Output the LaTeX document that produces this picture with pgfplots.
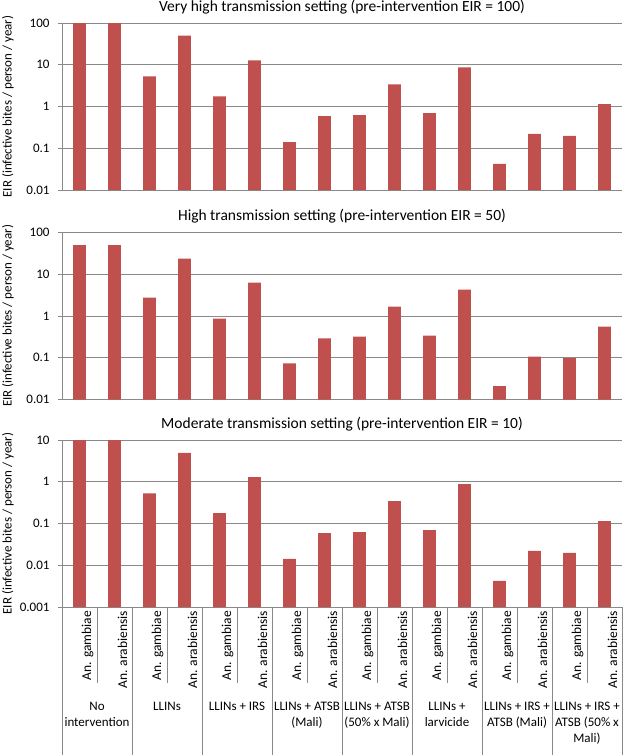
\documentclass[border=0pt]{standalone}
\usepackage{pgfplots}
\pgfplotsset{compat=1.18}
\usepackage{fontspec}
\setmainfont{Carlito}
\definecolor{barred}{HTML}{C0504D}
\definecolor{gridgray}{HTML}{898989}

\pgfplotsset{
  width=560pt, height=167pt, scale only axis,
  xmin=-0.5, xmax=15.5,
  axis x line*=bottom, axis y line*=left,
  axis line style={gridgray, line width=0.9pt},
  ymajorgrids, grid style={gridgray, line width=0.9pt},
  ytick style={gridgray, line width=0.9pt},
  xtick style={draw=none},
  tick align=outside, major tick length=4pt,
  yminorticks=false,
  tick label style={font=\fontsize{13}{15}\selectfont},
  yticklabel style={xshift=-5pt},
  ylabel style={at={(axis description cs:-0.0964,0.5)}, anchor=center, font=\fontsize{13}{15}\selectfont},
  title style={at={(axis description cs:0.5,1)}, anchor=base, inner sep=0pt, yshift=6pt, font=\fontsize{15.5}{18}\selectfont},
}
\pgfplotsset{/pgf/number format/assume math mode=true}
\tikzset{grp/.style={anchor=north, align=center, inner sep=0pt, yshift=-95pt, font=\fontsize{13}{16}\selectfont},
  sep/.style={gridgray, line width=0.9pt}}

\begin{document}
\begin{tikzpicture}
\path[use as bounding box] (0,0) rectangle (627pt,-755pt);

% Panel 1
\begin{axis}[at={(62pt,-190pt)}, anchor=south west,
  ymode=log, log origin y=infty, ybar, bar width=12.8pt, clip=false,
  ymin=0.01, ymax=100,
  ytick={0.01,0.1,1,10,100}, yticklabels={0.01,0.1,1,10,100},
  xtick=\empty,
  ylabel={EIR (infective bites / person / year)},
  title={Very high transmission setting (pre-intervention EIR = 100)}]
\addplot[fill=barred, draw=none, bar shift=0pt] coordinates {
(0,100) (1,100) (2,5.25) (3,49.7) (4,1.76) (5,12.7) (6,0.14) (7,0.59)
(8,0.62) (9,3.4) (10,0.69) (11,8.6) (12,0.042) (13,0.22) (14,0.197) (15,1.14)};
\end{axis}

% Panel 2
\begin{axis}[at={(62pt,-399.5pt)}, anchor=south west,
  ymode=log, log origin y=infty, ybar, bar width=12.8pt, clip=false,
  ymin=0.01, ymax=100,
  ytick={0.01,0.1,1,10,100}, yticklabels={0.01,0.1,1,10,100},
  xtick=\empty,
  ylabel={EIR (infective bites / person / year)},
  title={High transmission setting (pre-intervention EIR = 50)}]
\addplot[fill=barred, draw=none, bar shift=0pt] coordinates {
(0,49.7) (1,49.7) (2,2.75) (3,23.8) (4,0.86) (5,6.3) (6,0.073) (7,0.29)
(8,0.32) (9,1.67) (10,0.34) (11,4.3) (12,0.021) (13,0.107) (14,0.098) (15,0.56)};
\end{axis}

% Panel 3
\begin{axis}[at={(62pt,-607pt)}, anchor=south west,
  ymode=log, log origin y=infty, ybar, bar width=12.8pt, clip=false,
  ymin=0.001, ymax=10,
  ytick={0.001,0.01,0.1,1,10}, yticklabels={0.001,0.01,0.1,1,10},
  xtick={0,...,15},
  xticklabels={An. gambiae, An. arabiensis, An. gambiae, An. arabiensis, An. gambiae, An. arabiensis, An. gambiae, An. arabiensis, An. gambiae, An. arabiensis, An. gambiae, An. arabiensis, An. gambiae, An. arabiensis, An. gambiae, An. arabiensis},
  xticklabel style={rotate=90, anchor=east, inner sep=0pt, yshift=-8pt, font=\fontsize{13.5}{15}\selectfont},
  ylabel={EIR (infective bites / person / year)},
  title={Moderate transmission setting (pre-intervention EIR = 10)}]
\addplot[fill=barred, draw=none, bar shift=0pt] coordinates {
(0,10) (1,10) (2,0.53) (3,4.9) (4,0.177) (5,1.29) (6,0.0142) (7,0.059)
(8,0.062) (9,0.344) (10,0.069) (11,0.88) (12,0.0042) (13,0.022) (14,0.0197) (15,0.114)};
% separators within groups
\draw[sep] (axis cs:0.5,0.001) -- ([yshift=-76pt]axis cs:0.5,0.001);
\draw[sep] (axis cs:2.5,0.001) -- ([yshift=-76pt]axis cs:2.5,0.001);
\draw[sep] (axis cs:4.5,0.001) -- ([yshift=-76pt]axis cs:4.5,0.001);
\draw[sep] (axis cs:6.5,0.001) -- ([yshift=-76pt]axis cs:6.5,0.001);
\draw[sep] (axis cs:8.5,0.001) -- ([yshift=-76pt]axis cs:8.5,0.001);
\draw[sep] (axis cs:10.5,0.001) -- ([yshift=-76pt]axis cs:10.5,0.001);
\draw[sep] (axis cs:12.5,0.001) -- ([yshift=-76pt]axis cs:12.5,0.001);
\draw[sep] (axis cs:14.5,0.001) -- ([yshift=-76pt]axis cs:14.5,0.001);
% separators between groups
\draw[sep] (axis cs:-0.5,0.001) -- ([yshift=-148pt]axis cs:-0.5,0.001);
\draw[sep] (axis cs:1.5,0.001) -- ([yshift=-148pt]axis cs:1.5,0.001);
\draw[sep] (axis cs:3.5,0.001) -- ([yshift=-148pt]axis cs:3.5,0.001);
\draw[sep] (axis cs:5.5,0.001) -- ([yshift=-148pt]axis cs:5.5,0.001);
\draw[sep] (axis cs:7.5,0.001) -- ([yshift=-148pt]axis cs:7.5,0.001);
\draw[sep] (axis cs:9.5,0.001) -- ([yshift=-148pt]axis cs:9.5,0.001);
\draw[sep] (axis cs:11.5,0.001) -- ([yshift=-148pt]axis cs:11.5,0.001);
\draw[sep] (axis cs:13.5,0.001) -- ([yshift=-148pt]axis cs:13.5,0.001);
\draw[sep] (axis cs:15.5,0.001) -- ([yshift=-148pt]axis cs:15.5,0.001);
% group labels
\node[grp] at (axis cs:0.5,0.001) {No\\intervention};
\node[grp] at (axis cs:2.5,0.001) {LLINs};
\node[grp] at (axis cs:4.5,0.001) {LLINs + IRS};
\node[grp] at (axis cs:6.5,0.001) {LLINs + ATSB\\(Mali)};
\node[grp] at (axis cs:8.5,0.001) {LLINs + ATSB\\(50\% x Mali)};
\node[grp] at (axis cs:10.5,0.001) {LLINs +\\larvicide};
\node[grp] at (axis cs:12.5,0.001) {LLINs + IRS +\\ATSB (Mali)};
\node[grp] at (axis cs:14.5,0.001) {LLINs + IRS +\\ATSB (50\% x\\Mali)};
\end{axis}
\end{tikzpicture}
\end{document}
